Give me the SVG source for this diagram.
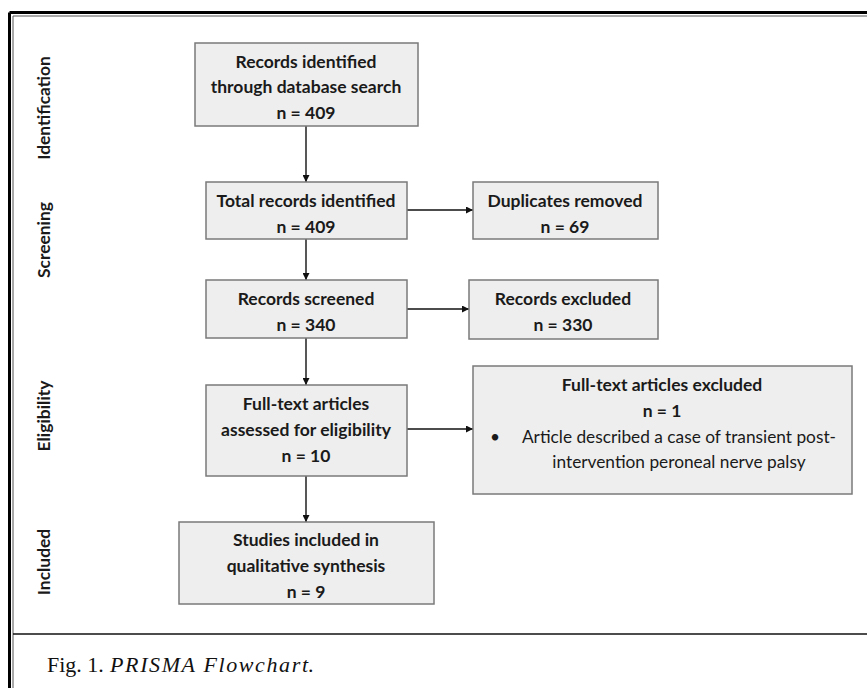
<svg xmlns="http://www.w3.org/2000/svg" width="867" height="688" viewBox="0 0 867 688">
<style>
  .box { fill: #eeeeee; stroke: #7a7a7a; stroke-width: 1.5; }
  .t { font-family: Lato, "Open Sans", sans-serif; font-weight: bold; font-size: 17.5px; fill: #1a1a1a; text-anchor: middle; }
  .tn { font-family: Lato, "Open Sans", sans-serif; font-size: 17.3px; fill: #1a1a1a; }
  .stage { font-family: Lato, "Open Sans", sans-serif; font-weight: bold; font-size: 17.4px; fill: #1a1a1a; text-anchor: middle; }
  .conn { stroke: #111111; stroke-width: 1.4; fill: none; marker-end: url(#arr); }
  .cap { font-family: "Liberation Serif", "DejaVu Serif", serif; font-size: 22px; fill: #111111; }
</style>
<defs>
  <marker id="arr" viewBox="0 0 10 10" refX="10" refY="5" markerWidth="7" markerHeight="7" markerUnits="userSpaceOnUse" orient="auto">
    <path d="M0,0 L10,5 L0,10 Z" fill="#111111"/>
  </marker>
</defs>
<rect x="0" y="0" width="867" height="688" fill="#ffffff"/>
<g id="frame">
  <line x1="9.5" y1="12.5" x2="867" y2="12.5" stroke="#000" stroke-width="3"/>
  <line x1="9.5" y1="12.5" x2="9.5" y2="688" stroke="#000" stroke-width="3"/>
  <line x1="13" y1="16" x2="867" y2="16" stroke="#555" stroke-width="1"/>
  <line x1="13" y1="16" x2="13" y2="688" stroke="#555" stroke-width="1"/>
  <line x1="13" y1="634" x2="867" y2="634" stroke="#111" stroke-width="1.5"/>
</g>
<g id="stages">
  <text class="stage" transform="translate(50,108) rotate(-90)">Identification</text>
  <text class="stage" transform="translate(50,240) rotate(-90)">Screening</text>
  <text class="stage" transform="translate(50,416) rotate(-90)">Eligibility</text>
  <text class="stage" transform="translate(50,562) rotate(-90)">Included</text>
</g>
<g id="connectors">
  <line class="conn" x1="306" y1="126" x2="306" y2="182"/>
  <line class="conn" x1="306" y1="239" x2="306" y2="280"/>
  <line class="conn" x1="306" y1="338" x2="306" y2="385"/>
  <line class="conn" x1="306" y1="476" x2="306" y2="522"/>
  <line class="conn" x1="407" y1="210" x2="473" y2="210"/>
  <line class="conn" x1="407" y1="309" x2="469" y2="309"/>
  <line class="conn" x1="407" y1="429" x2="473" y2="429"/>
</g>
<g id="n1">
  <rect class="box" x="195" y="43" width="223" height="83"/>
  <text class="t" x="306" y="68">Records identified</text>
  <text class="t" x="306" y="93">through database search</text>
  <text class="t" x="306" y="119">n = 409</text>
</g>
<g id="n2">
  <rect class="box" x="206" y="182" width="201" height="57"/>
  <text class="t" x="306" y="207">Total records identified</text>
  <text class="t" x="306" y="233">n = 409</text>
</g>
<g id="n3">
  <rect class="box" x="206" y="280" width="201" height="58"/>
  <text class="t" x="306" y="305">Records screened</text>
  <text class="t" x="306" y="331">n = 340</text>
</g>
<g id="n4">
  <rect class="box" x="206" y="385" width="201" height="91"/>
  <text class="t" x="306" y="410">Full-text articles</text>
  <text class="t" x="306" y="436">assessed for eligibility</text>
  <text class="t" x="306" y="462">n = 10</text>
</g>
<g id="n5">
  <rect class="box" x="179" y="522" width="255" height="82"/>
  <text class="t" x="306" y="546">Studies included in</text>
  <text class="t" x="306" y="572">qualitative synthesis</text>
  <text class="t" x="306" y="598">n = 9</text>
</g>
<g id="n6">
  <rect class="box" x="473" y="182" width="185" height="57"/>
  <text class="t" x="565" y="207">Duplicates removed</text>
  <text class="t" x="565" y="233">n = 69</text>
</g>
<g id="n7">
  <rect class="box" x="469" y="280" width="189" height="59"/>
  <text class="t" x="563" y="305">Records excluded</text>
  <text class="t" x="563" y="331">n = 330</text>
</g>
<g id="n8">
  <rect class="box" x="473" y="366" width="379" height="128"/>
  <text class="t" x="662" y="391">Full-text articles excluded</text>
  <text class="t" x="662" y="417">n = 1</text>
  <text class="tn" x="490" y="443">•</text>
  <text class="tn" x="679" y="443" text-anchor="middle">Article described a case of transient post-</text>
  <text class="tn" x="679" y="468" text-anchor="middle">intervention peroneal nerve palsy</text>
</g>
<g id="caption">
  <text class="cap" x="47" y="672">Fig. 1.</text>
  <text class="cap" x="110" y="672" font-style="italic" textLength="198" lengthAdjust="spacing">PRISMA Flowchart</text>
  <text class="cap" x="308" y="672">.</text>
</g>
</svg>
